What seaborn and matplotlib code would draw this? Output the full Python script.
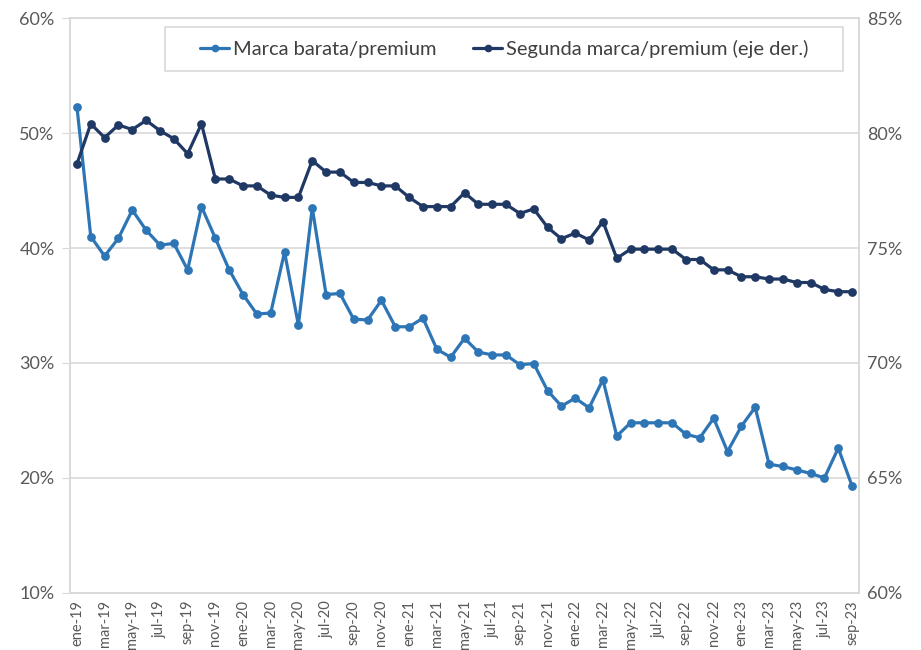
import matplotlib

matplotlib.use("Agg")
import matplotlib.pyplot as plt
import pandas as pd
import seaborn as sns
from matplotlib.lines import Line2D
from matplotlib.patches import Rectangle
from matplotlib.ticker import FixedLocator, PercentFormatter

# month labels, ene-19 .. sep-23
month_names = ["ene", "feb", "mar", "abr", "may", "jun", "jul", "ago", "sep", "oct", "nov", "dic"]
years = ["19", "20", "21", "22", "23"]
periods = [f"{m}-{y}" for y in years for m in month_names][:57]

# ratio cheap brand / premium (left axis, %)
barata = [
    52.3, 41.0, 39.3, 40.85, 43.3, 41.55, 40.25, 40.4, 38.1, 43.6, 40.85, 38.1,
    35.95, 34.25, 34.35, 39.65, 33.3, 43.5, 35.95, 36.05, 33.8, 33.75, 35.45, 33.15,
    33.15, 33.9, 31.2, 30.5, 32.15, 30.95, 30.7, 30.7, 29.85, 29.95, 27.6, 26.25,
    26.95, 26.1, 28.55, 23.65, 24.8, 24.8, 24.8, 24.8, 23.8, 23.5, 25.2, 22.3,
    24.5, 26.15, 21.2, 21.0, 20.7, 20.4, 20.0, 22.6, 19.3,
]

# ratio second brand / premium (right axis, %)
segunda = [
    78.65, 80.4, 79.8, 80.35, 80.15, 80.55, 80.1, 79.75, 79.1, 80.4, 78.0, 78.0,
    77.7, 77.7, 77.3, 77.2, 77.2, 78.8, 78.3, 78.3, 77.85, 77.85, 77.7, 77.7,
    77.2, 76.8, 76.8, 76.8, 77.4, 76.9, 76.9, 76.9, 76.5, 76.7, 75.9, 75.4,
    75.65, 75.35, 76.15, 74.55, 74.95, 74.95, 74.95, 74.95, 74.5, 74.5, 74.05, 74.05,
    73.75, 73.75, 73.65, 73.65, 73.5, 73.5, 73.2, 73.1, 73.1,
]

label_barata = "Marca barata/premium"
label_segunda = "Segunda marca/premium (eje der.)"

light_blue = "#2E75B6"
navy = "#1F3864"
grid_grey = "#D9D9D9"
text_grey = "#595959"

df = pd.DataFrame({"periodo": periods, "barata": barata, "segunda": segunda})
df["pos"] = range(len(df))

sns.set_style("white")
plt.rcParams["font.family"] = ["Lato", "DejaVu Sans"]

fig = plt.figure(figsize=(9.21, 6.5), dpi=100)
ax = fig.add_axes([0.076, 0.0877, 0.8567, 0.8846])
ax2 = ax.twinx()

sns.lineplot(data=df, x="pos", y="barata", ax=ax, color=light_blue, linewidth=2.3,
             marker="o", markersize=6.3, markeredgewidth=0, zorder=3)
sns.lineplot(data=df, x="pos", y="segunda", ax=ax2, color=navy, linewidth=2.3,
             marker="o", markersize=6.3, markeredgewidth=0, zorder=3)

ax.set_xlim(-0.5, len(df) - 0.5)
ax.set_ylim(10, 60)
ax2.set_ylim(60, 85)
ax.set_yticks(range(10, 61, 10))
ax2.set_yticks(range(60, 86, 5))
ax.yaxis.set_major_formatter(PercentFormatter(decimals=0))
ax2.yaxis.set_major_formatter(PercentFormatter(decimals=0))

# category ticks between months, labels every other month
ax.xaxis.set_major_locator(FixedLocator([i - 0.5 for i in range(0, len(df), 2)]))
ax.xaxis.set_minor_locator(FixedLocator(list(range(0, len(df), 2))))
ax.set_xticklabels([], minor=False)
ax.set_xticklabels(df["periodo"][::2], minor=True, rotation=90)
ax.tick_params(axis="x", which="major", length=6, color=grid_grey, width=1)
ax.tick_params(axis="x", which="minor", length=0, pad=5, labelsize=10.5, labelcolor=text_grey)
ax.tick_params(axis="y", length=6, color=grid_grey, labelsize=13, labelcolor=text_grey, pad=5)
ax2.tick_params(axis="y", length=0, labelsize=13, labelcolor=text_grey, pad=6)

ax.grid(axis="y", color=grid_grey, linewidth=1.2)
ax.set_axisbelow(True)
for a in (ax, ax2):
    for s in a.spines.values():
        s.set_color(grid_grey)
        s.set_linewidth(1.2)
ax.set_xlabel("")
ax.set_ylabel("")
ax2.set_ylabel("")

# legend box drawn separately (wider padding than matplotlib's frame)
fig.patches.append(Rectangle((0.1792, 0.8908), 0.7362, 0.0677, transform=fig.transFigure,
                             facecolor="white", edgecolor=grid_grey, linewidth=1.2, zorder=5))
handles = [
    Line2D([], [], color=light_blue, linewidth=2.3, marker="o", markersize=4.5),
    Line2D([], [], color=navy, linewidth=2.3, marker="o", markersize=4.5),
]
leg = fig.legend(handles, [label_barata, label_segunda], ncol=2, loc="center left",
                 bbox_to_anchor=(0.2171, 0.9246), fontsize=14.5, frameon=False,
                 handlelength=1.45, handletextpad=0.2, columnspacing=1.8,
                 borderpad=0, borderaxespad=0, labelcolor="#404040")
leg.set_zorder(6)

fig.savefig("out.png", dpi=100)
